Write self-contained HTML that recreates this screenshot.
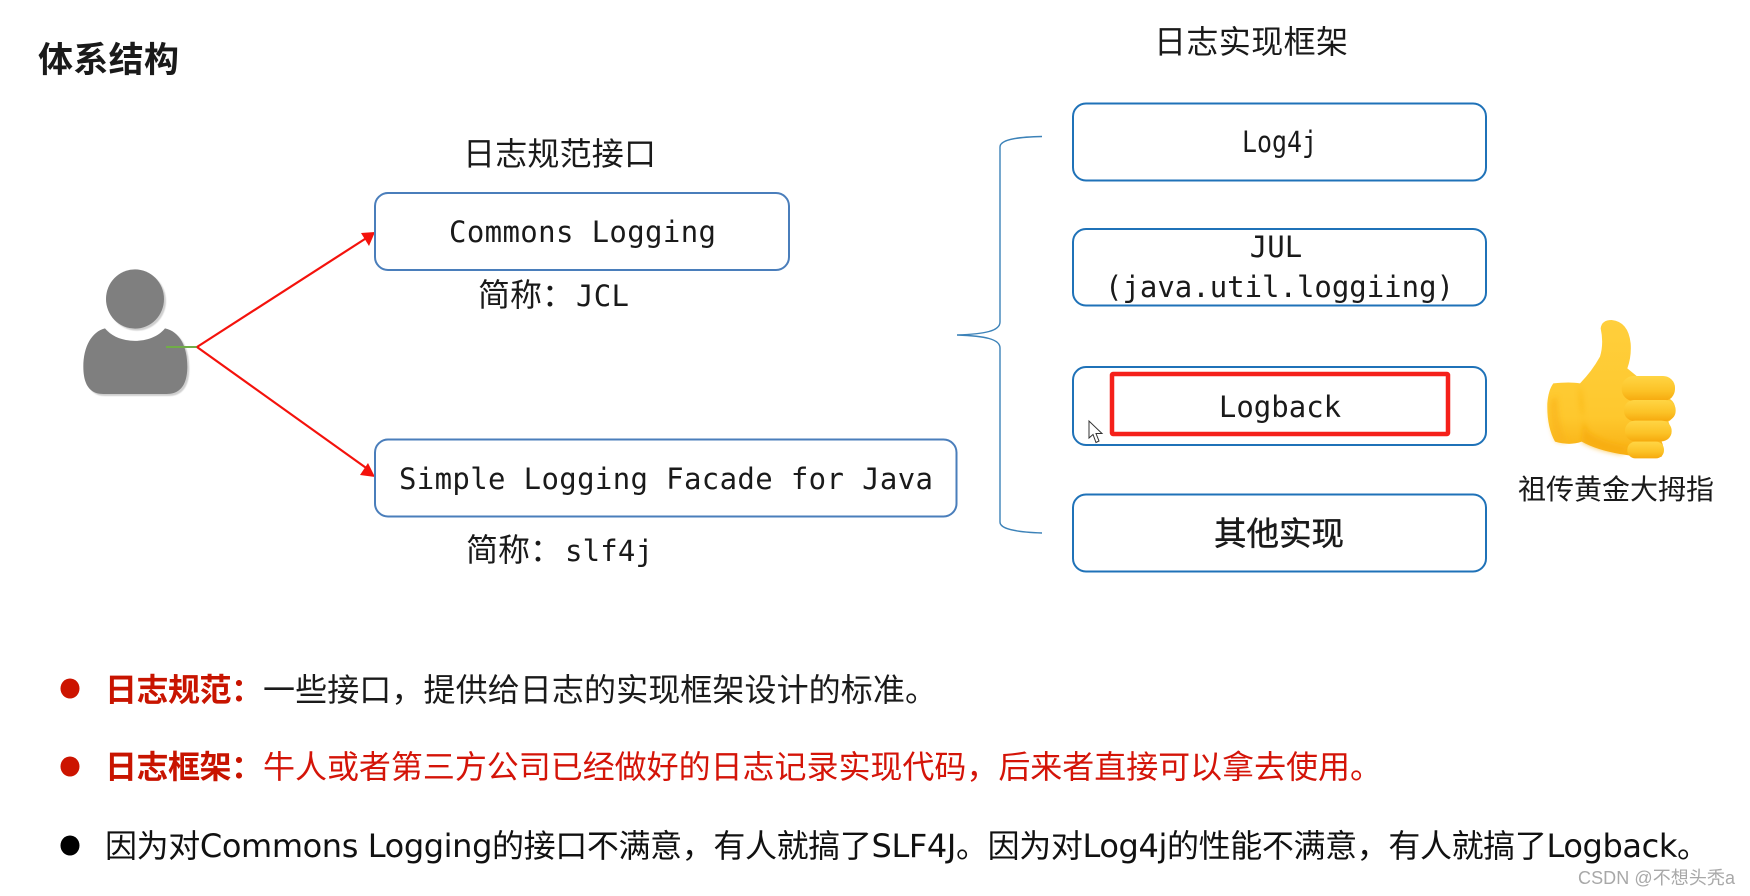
<!DOCTYPE html>
<html lang="zh"><head><meta charset="utf-8"><title>体系结构</title>
<style>
html,body{margin:0;padding:0;background:#fff;width:1750px;height:896px;overflow:hidden}
svg{position:absolute;left:0;top:0;display:block;filter:blur(.35px)}
text{font-family:"Liberation Sans","Noto Sans CJK SC",sans-serif;fill:#1a1a1a}
.m{font-family:"DejaVu Sans Mono","Noto Sans CJK SC",monospace;font-size:29px}
.c{font-family:"Noto Sans CJK SC",sans-serif;font-size:32px}
.l{font-family:"DejaVu Sans","Noto Sans CJK SC",sans-serif;font-size:32px}
.box{fill:#fff;stroke:#1f72b8;stroke-width:2}
.box2{fill:#fff;stroke:#4a7ebb;stroke-width:2}
</style></head><body>
<svg width="1750" height="896" viewBox="0 0 1750 896" xmlns="http://www.w3.org/2000/svg">
<defs>
<linearGradient id="h" x1="0" y1="0" x2="0" y2="1"><stop offset="0" stop-color="#ffcf3c"/><stop offset=".7" stop-color="#fec82e"/><stop offset="1" stop-color="#f8ae12"/></linearGradient>
<linearGradient id="f" x1="0" y1="0" x2="0" y2="1"><stop offset="0" stop-color="#ffd544"/><stop offset=".6" stop-color="#fcc226"/><stop offset="1" stop-color="#f6a90e"/></linearGradient>
<filter id="s" x="-20%" y="-20%" width="140%" height="140%"><feGaussianBlur stdDeviation="1.6"/></filter>
<filter id="t" x="-30%" y="-30%" width="160%" height="160%"><feGaussianBlur stdDeviation="8"/></filter>
</defs>
<rect width="1750" height="896" fill="#fff"/>

<text x="38" y="72" class="c" style="font-weight:700;font-size:35px" textLength="141">体系结构</text>
<text x="1154" y="53" class="c" textLength="194">日志实现框架</text>
<text x="463" y="165" class="c" textLength="193">日志规范接口</text>

<!-- person -->
<g transform="translate(60,250) scale(.3333)">
<g fill="#cfcfcf" filter="url(#s)" transform="translate(6,6)">
<ellipse cx="225" cy="147" rx="87" ry="89"/>
<path d="M135 235 C175 285 275 285 315 235 C360 245 382 290 382 350 C382 405 360 432 320 432 L130 432 C90 432 70 405 70 350 C70 290 95 245 135 235Z"/>
</g>
<ellipse cx="225" cy="147" rx="87" ry="89" fill="#7f7f7f"/>
<path d="M135 235 C175 285 275 285 315 235 C360 245 382 290 382 350 C382 405 360 432 320 432 L130 432 C90 432 70 405 70 350 C70 290 95 245 135 235Z" fill="#7f7f7f"/>
</g>
<line x1="166" y1="347" x2="197" y2="347" stroke="#70ad47" stroke-width="2"/>
<line x1="197" y1="347" x2="368" y2="237" stroke="#f4120c" stroke-width="2.2"/>
<line x1="197" y1="347" x2="369" y2="470" stroke="#f4120c" stroke-width="2.2"/>
<polygon points="375,232 361,233 369,246" fill="#f4120c"/>
<polygon points="375,477 368,463 360,475" fill="#f4120c"/>

<!-- left boxes -->
<rect class="box2" x="375" y="193" width="414" height="77" rx="13"/>
<rect class="box2" x="375" y="439.500" width="581.500" height="77" rx="13"/>
<text x="449" y="242" class="m" textLength="267">Commons Logging</text>
<text x="399" y="489" class="m" textLength="534">Simple Logging Facade for Java</text>
<text x="478" y="306" class="c">简称：</text>
<text x="576" y="306" class="m" textLength="53">JCL</text>
<text x="466" y="561" class="c">简称：</text>
<text x="565" y="561" class="m" textLength="88">slf4j</text>

<!-- brace -->
<path d="M1042 136.500 C1015 137 1000 140 1000 147 L1000 322 C1000 331 985 334 957 335 C985 336 1000 339 1000 348 L1000 522 C1000 529 1015 532 1042 533" fill="none" stroke="#3c82b8" stroke-width="1.4"/>

<!-- right boxes -->
<rect class="box" x="1073" y="103.500" width="413" height="77" rx="13"/>
<rect class="box" x="1073" y="229" width="413" height="76.500" rx="13"/>
<rect class="box" x="1073" y="367" width="413" height="78" rx="13"/>
<rect class="box" x="1073" y="494.500" width="413" height="77" rx="13"/>
<rect x="1112" y="374" width="336" height="60" rx="1" fill="none" stroke="#f5201a" stroke-width="4.500"/>
<text x="1242" y="152" class="m" textLength="75" lengthAdjust="spacingAndGlyphs">Log4j</text>
<text x="1276" y="257" class="m" text-anchor="middle">JUL</text>
<text x="1105" y="297" class="m" textLength="349">(java.util.loggiing)</text>
<text x="1280" y="417" class="m" text-anchor="middle">Logback</text>
<text x="1279" y="545" class="c" text-anchor="middle" style="font-size:32.500px;stroke:#1a1a1a;stroke-width:.45">其他实现</text>

<!-- cursor -->
<path d="M1089 421 L1089 438 L1093 434.500 L1096 442.500 L1099 441 L1096 433.500 L1102 433.500 Z" fill="#fff" stroke="#333" stroke-width="1"/>

<!-- thumb -->
<g transform="translate(1520,300) scale(.3333)">
<path id="hand" d="M100 250 Q150 245 180 250 Q215 215 240 170 Q252 130 242 85 Q245 60 275 60 Q325 65 332 130 Q335 170 322 205 L350 228 L440 230 Q465 240 465 265 Q462 290 450 297 Q470 310 465 340 Q455 360 445 365 Q455 385 445 410 L425 425 Q435 445 425 470 Q400 478 350 470 L300 462 Q230 450 185 425 Q150 438 105 425 Q80 380 82 310 Q85 270 100 250Z" fill="url(#h)"/>
<path d="M180 250 Q196 340 185 425 Q230 450 305 462 L330 440 Q250 430 205 395 Q175 340 180 250Z" fill="#f7ab10" opacity=".75" filter="url(#t)"/>
<path d="M92 300 Q86 370 108 422 Q125 428 140 426 Q115 370 112 290Z" fill="#f9b41a" opacity=".7" filter="url(#t)"/>
<rect x="305" y="228" width="160" height="75" rx="36" fill="url(#f)"/>
<rect x="312" y="300" width="155" height="63" rx="30" fill="url(#f)"/>
<rect x="315" y="362" width="140" height="62" rx="30" fill="url(#f)"/>
<rect x="322" y="425" width="110" height="50" rx="24" fill="url(#f)"/>
</g>
<text x="1518" y="499" class="c" style="font-size:28px" textLength="196">祖传黄金大拇指</text>

<!-- bullets -->
<ellipse cx="70" cy="688.500" rx="9.500" ry="10" fill="#cc1400"/>
<ellipse cx="70" cy="766.500" rx="9.500" ry="10" fill="#cc1400"/>
<ellipse cx="70" cy="845.500" rx="9.500" ry="10" fill="#000"/>

<text x="105" y="701" class="c" style="font-weight:700;fill:#c81400" textLength="158">日志规范：</text>
<text x="263" y="701" class="c" textLength="674">一些接口，提供给日志的实现框架设计的标准。</text>
<text x="105" y="778" class="c" style="font-weight:700;fill:#c81400" textLength="158">日志框架：</text>
<text x="263" y="778" class="c" style="fill:#d41408" textLength="1119">牛人或者第三方公司已经做好的日志记录实现代码，后来者直接可以拿去使用。</text>
<text x="105" y="857" class="l" style="fill:#111" textLength="1604">因为对Commons Logging的接口不满意，有人就搞了SLF4J。因为对Log4j的性能不满意，有人就搞了Logback。</text>

<text x="1578" y="884" style="font-size:18px;fill:#a8a8a8;font-family:'Liberation Sans','Noto Sans CJK SC',sans-serif" textLength="157">CSDN @不想头秃a</text>
</svg>
</body></html>
